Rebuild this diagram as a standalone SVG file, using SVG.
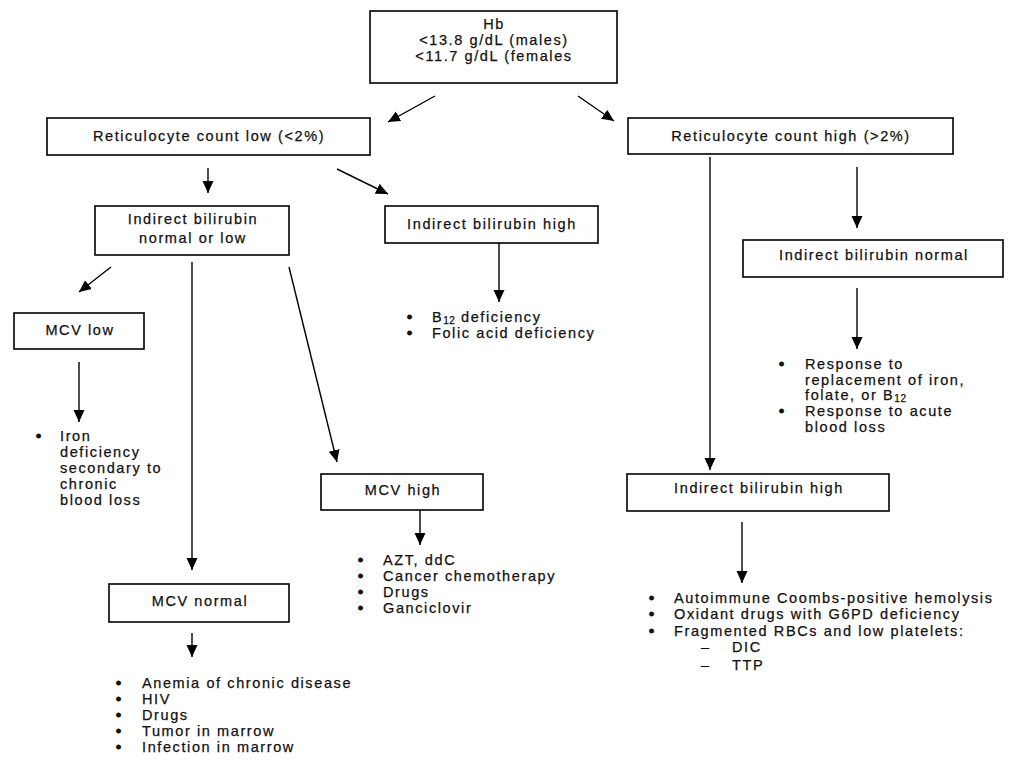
<svg xmlns="http://www.w3.org/2000/svg" width="1024" height="768" viewBox="0 0 1024 768">
<defs>
<marker id="ah" markerUnits="userSpaceOnUse" markerWidth="12" markerHeight="12" refX="12" refY="6" orient="auto">
<path d="M0,0.5 L12,6 L0,11.5 z" fill="#000"/>
</marker>
<style>
rect{fill:#fff;stroke:#000;stroke-width:1.6}
text{font-family:"Liberation Sans",Arial,sans-serif;font-size:14.5px;letter-spacing:1.6px;fill:#111;stroke:#111;stroke-width:0.25}
.c{text-anchor:middle}
.b{stroke-width:1}
.sub{font-size:10px;letter-spacing:0.5px}
line{stroke:#000;stroke-width:1.4;marker-end:url(#ah)}
</style>
</defs>
<rect x="0" y="0" width="1024" height="768" style="fill:#fff;stroke:none"/>

<g id="hb">
<rect x="370" y="11" width="247" height="72"/>
<text class="c" x="494" y="29">Hb</text>
<text class="c" x="494" y="45">&lt;13.8 g/dL (males)</text>
<text class="c" x="494" y="61">&lt;11.7 g/dL (females</text>
</g>

<g id="retlow">
<rect x="47" y="118" width="323" height="37"/>
<text class="c" x="209" y="141">Reticulocyte count low (&lt;2%)</text>
</g>

<g id="rethigh">
<rect x="628" y="118" width="325" height="36"/>
<text class="c" x="791" y="141">Reticulocyte count high (&gt;2%)</text>
</g>

<g id="ibnl">
<rect x="95" y="206" width="194" height="49"/>
<text class="c" x="193" y="224">Indirect bilirubin</text>
<text class="c" x="193" y="243">normal or low</text>
</g>

<g id="ibhigh1">
<rect x="385" y="206" width="213" height="37"/>
<text class="c" x="492" y="229">Indirect bilirubin high</text>
</g>

<g id="b12list">
<text class="b" x="407" y="322">•</text><text x="432" y="322">B<tspan class="sub" dy="2">12</tspan><tspan dy="-2"> deficiency</tspan></text>
<text class="b" x="407" y="338">•</text><text x="432" y="338">Folic acid deficiency</text>
</g>

<g id="ibnormal">
<rect x="743" y="240" width="260" height="37"/>
<text class="c" x="874" y="260">Indirect bilirubin normal</text>
</g>

<g id="responselist">
<text class="b" x="779" y="369">•</text><text x="805" y="369">Response to</text>
<text x="805" y="385">replacement of iron,</text>
<text x="805" y="400">folate, or B<tspan class="sub" dy="2">12</tspan></text>
<text class="b" x="779" y="416">•</text><text x="805" y="416">Response to acute</text>
<text x="805" y="432">blood loss</text>
</g>

<g id="ibhigh2">
<rect x="627" y="474" width="262" height="37"/>
<text class="c" x="759" y="493">Indirect bilirubin high</text>
</g>

<g id="hemolysislist">
<text class="b" x="649" y="603">•</text><text x="674" y="603">Autoimmune Coombs-positive hemolysis</text>
<text class="b" x="649" y="619">•</text><text x="674" y="619">Oxidant drugs with G6PD deficiency</text>
<text class="b" x="649" y="636">•</text><text x="674" y="636">Fragmented RBCs and low platelets:</text>
<text x="701" y="652">–</text><text x="732" y="652">DIC</text>
<text x="701" y="670">–</text><text x="732" y="670">TTP</text>
</g>

<g id="mcvlow">
<rect x="14" y="313" width="130" height="36"/>
<text class="c" x="80" y="335">MCV low</text>
</g>

<g id="ironlist">
<text class="b" x="36" y="441">•</text><text x="60" y="441">Iron</text>
<text x="60" y="457">deficiency</text>
<text x="60" y="473">secondary to</text>
<text x="60" y="489">chronic</text>
<text x="60" y="505">blood loss</text>
</g>

<g id="mcvhigh">
<rect x="321" y="474" width="162" height="36"/>
<text class="c" x="403" y="495">MCV high</text>
</g>

<g id="azlist">
<text class="b" x="358" y="565">•</text><text x="383" y="565">AZT, ddC</text>
<text class="b" x="358" y="581">•</text><text x="383" y="581">Cancer chemotherapy</text>
<text class="b" x="358" y="597">•</text><text x="383" y="597">Drugs</text>
<text class="b" x="358" y="613">•</text><text x="383" y="613">Ganciclovir</text>
</g>

<g id="mcvnormal">
<rect x="109" y="584" width="180" height="38"/>
<text class="c" x="200" y="606">MCV normal</text>
</g>

<g id="acdlist">
<text class="b" x="116" y="688">•</text><text x="142" y="688">Anemia of chronic disease</text>
<text class="b" x="116" y="704">•</text><text x="142" y="704">HIV</text>
<text class="b" x="116" y="720">•</text><text x="142" y="720">Drugs</text>
<text class="b" x="116" y="736">•</text><text x="142" y="736">Tumor in marrow</text>
<text class="b" x="116" y="752">•</text><text x="142" y="752">Infection in marrow</text>
</g>

<g id="connectors">
<line x1="435" y1="96" x2="388" y2="122"/>
<line x1="578" y1="96" x2="614" y2="121"/>
<line x1="208" y1="168" x2="208" y2="193"/>
<line x1="337" y1="169" x2="388" y2="194"/>
<line x1="499" y1="243" x2="499" y2="302"/>
<line x1="857" y1="167" x2="857" y2="228"/>
<line x1="710" y1="157" x2="710" y2="470"/>
<line x1="857" y1="288" x2="857" y2="349"/>
<line x1="742" y1="522" x2="742" y2="583"/>
<line x1="111" y1="267" x2="79" y2="292"/>
<line x1="79" y1="362" x2="79" y2="422"/>
<line x1="192" y1="262" x2="192" y2="570"/>
<line x1="289" y1="267" x2="337" y2="462"/>
<line x1="420" y1="510" x2="420" y2="545"/>
<line x1="192" y1="633" x2="192" y2="657"/>
</g>
</svg>
